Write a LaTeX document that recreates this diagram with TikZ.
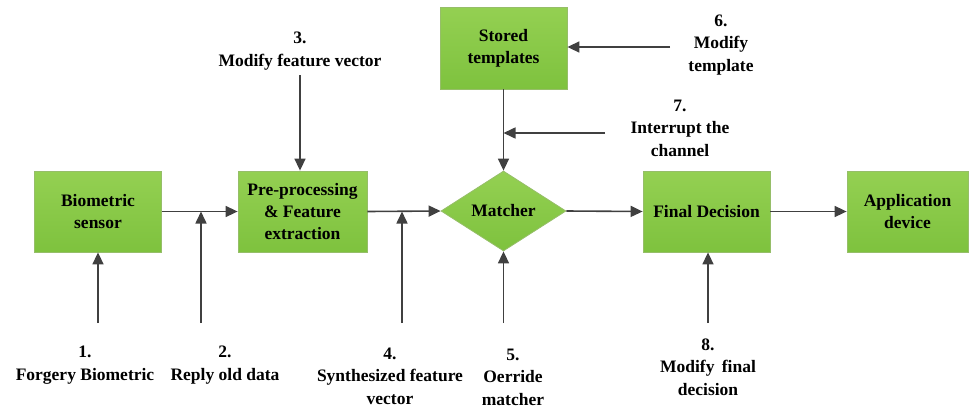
\documentclass[tikz,border=0pt]{standalone}
\usepackage{fontspec}
\setmainfont{Liberation Serif}
\usetikzlibrary{shapes.geometric,arrows.meta}
\definecolor{gtop}{RGB}{148,208,82}
\definecolor{gbot}{RGB}{126,194,62}
\definecolor{gedge}{RGB}{150,190,105}
\definecolor{arr}{RGB}{64,64,64}
\begin{document}
\begin{tikzpicture}[x=1pt,y=-1pt,
  blk/.style={draw=gedge,line width=0.8pt,top color=gtop,bottom color=gbot,
    minimum width=127pt,minimum height=81pt,inner sep=0pt,align=center,
    font=\fontsize{17.5}{22}\selectfont\bfseries},
  dia/.style={diamond,draw=gedge,line width=0.8pt,top color=gtop,bottom color=gbot,
    minimum width=125pt,minimum height=80pt,inner sep=0pt,aspect=1.56,align=center,
    font=\fontsize{17.5}{22}\selectfont\bfseries},
  lbl/.style={align=center,inner sep=0pt,font=\fontsize{17.5}{22.5}\selectfont\bfseries},
  con/.style={draw=arr,line width=1.6pt,-{Triangle[length=12pt,width=11pt]}}]
\useasboundingbox (0,0) rectangle (969,410);
% blocks
\node[blk] (bio) at (98,211.5) {Biometric\\sensor};
\node[blk,minimum width=129pt] (pre) at (302.5,211.5) {Pre-processing\\\& Feature\\extraction};
\node[blk,minimum height=82pt] (sto) at (503.5,48) {Stored\\templates};
\node[dia] (mat) at (503.5,211) {Matcher};
\node[blk] (fin) at (706.5,211.5) {Final Decision};
\node[blk,minimum width=121pt] (app) at (907.5,211.5) {Application\\device};
% labels
\node[lbl] (l1) at (85,365) {1.\\Forgery Biometric};
\node[lbl] (l2) at (225,365) {2.\\Reply old data};
\node[lbl] (l3) at (300,51) {3.\\Modify feature vector};
\node[lbl] (l4) at (390,376) {4.\\Synthesized feature\\vector};
\node[lbl] (l5) at (513,377) {5.\\Oerride\\matcher};
\node[lbl] (l6) at (721,45) {6.\\Modify\\template};
\node[lbl] (l7) at (680,128) {7.\\Interrupt the\\channel};
\node[lbl] (l8) at (708,367) {8.\\Modify\, final\\decision};
% coordinates
\coordinate (c1) at (98,323);
\coordinate (c2) at (201,323);
\coordinate (c2e) at (201,211.5);
\coordinate (c3) at (300,75);
\coordinate (c4) at (402,323);
\coordinate (c4e) at (402,211.5);
\coordinate (c5) at (503.5,323);
\coordinate (c6) at (670,47);
\coordinate (c7) at (605,133);
\coordinate (c7e) at (503.5,133);
\coordinate (c8) at (708,323);
% main flow
\draw[con] (bio.east) -- (pre.west);
\draw[con] (pre.east) -- (mat.west);
\draw[con] (mat.east) -- (fin.west);
\draw[con] (fin.east) -- (app.west);
\draw[con] (sto.south) -- (mat.north);
% attack arrows
\draw[con] (c1) -- (bio.south);
\draw[con] (c2) -- (c2e);
\draw[con] (c3) -- (c3 |- pre.north);
\draw[con] (c4) -- (c4e);
\draw[con] (c5) -- (mat.south);
\draw[con] (c6) -- (c6 -| sto.east);
\draw[con] (c7) -- (c7e);
\draw[con] (c8) -- (c8 |- fin.south);
\end{tikzpicture}
\end{document}
